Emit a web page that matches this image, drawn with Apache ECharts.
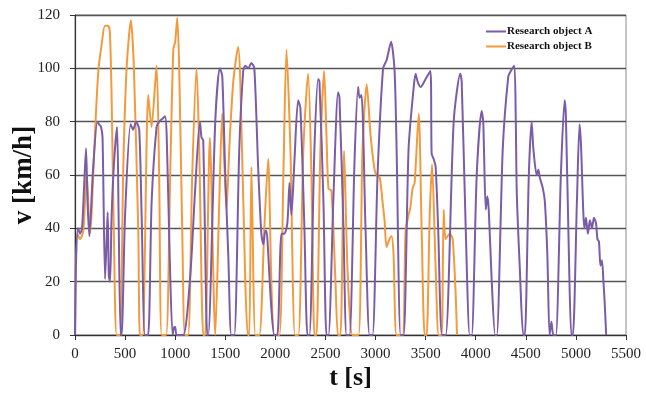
<!DOCTYPE html>
<html>
<head>
<meta charset="utf-8">
<script src="https://cdn.jsdelivr.net/npm/echarts@6/dist/echarts.min.js"></script>
<style>html,body{margin:0;padding:0;background:#fff}#c{width:646px;height:399px}</style>
</head>
<body>
<div id="c"></div>
<script>
var seriesNames = ['Research object A', 'Research object B'];
var xTicks = [0, 500, 1000, 1500, 2000, 2500, 3000, 3500, 4000, 4500, 5000, 5500];
var yTicks = [0, 20, 40, 60, 80, 100, 120];

var tA = [0,10,30,50,70,90,110,125,143,180,223,240,260,275,300,315,326,338,350,365,390,420,435,455,
465,500,555,580,610,641,665,698,
730,765,814,840,870,898,915,945,974,990,1000,1015,
1080,1150,1200,1247,1263,1280,1320,
1330,1400,1446,1470,1500,1530,1560,
1590,1640,1679,1700,1730,1760,1790,1828,1860,1880,1900,1912,1925,1960,1990,
2020,2061,2090,2120,2141,2160,2190,2227,2250,2290,2320,
2340,2390,2427,2440,2480,2510,
2530,2580,2626,2640,2680,2710,
2740,2790,2826,2840,2860,2900,2940,
2970,3020,3075,3110,3155,3190,3210,3250,
3280,3330,3381,3400,3420,3450,3500,3547,3560,3580,3600,3625,3663,
3700,3780,3846,3860,3900,3940,
3960,4010,4059,4075,4100,4115,4130,4160,4194,
4210,4270,4325,4350,4385,4400,4410,4440,4474,
4490,4530,4558,4575,4608,4625,4640,4670,4690,4715,4737,4755,4775,
4800,4850,4887,4900,4930,4954,
4970,5010,5036,5050,5085,5100,5120,5140,5160,5180,5200,5215,5230,5245,5260,5275,5290,5302];
var vA = [0,27,40,38,40,55,70,50,37,62,80,79,78,74,21,35,46,22,20,44,65,78,45,0,
0,45,79,77,80,77,45,0,
0,50,78,80,81,82,75,30,0,3,3,0,
0,22,55,80,74,73,0,
0,80,100,97,60,30,0,
0,70,99,101,100,102,100,63,38,34,39,39,33,10,0,
0,38,38,42,57,45,65,88,85,40,0,
0,70,96,95,50,0,
0,52,91,89,40,0,
0,65,93,89,90,40,0,
0,60,100,103,110,99,70,0,
0,70,93,98,95,93,96,99,68,66,63,40,0,
0,80,98,95,40,0,
0,60,84,80,47,52,47,20,0,
0,70,97,99,101,80,53,25,0,
0,60,80,70,60,62,59,55,50,30,0,5,0,
0,60,88,82,30,0,
0,50,79,72,40,44,38,43,40,44,42,36,35,26,28,20,10,0];

var tB = [0,23,50,83,116,150,166,200,233,266,299,332,349,366,399,416,
449,482,515,558,588,632,648,
675,731,764,814,840,865,
910,950,981,1000,1021,1040,1070,1097,
1130,1170,1213,1240,1280,
1300,1346,1400,
1440,1469,1490,1512,1540,1580,1629,1650,1700,1725,
1740,1761,1800,
1840,1890,1928,1960,1990,
2040,2080,2111,2150,2195,
2230,2280,2327,2360,2390,
2410,2450,2487,2510,2530,2560,2600,2625,
2650,2686,2720,2770,
2830,2870,2912,2950,2990,3010,3042,3070,3090,3110,3140,3160,3180,3210,
3270,3300,3330,3348,3370,3390,3431,3460,3490,
3510,3540,3564,3600,3630,
3660,3680,3700,3740,3770,3800,3813];
var vB = [0,38,36,39,61,38,46,76,99,109,116,116,113,88,13,0,
0,63,100,118,100,38,0,
0,90,78,101,60,0,
0,60,107,110,119,100,40,0,
0,60,100,70,0,
0,74,0,
50,83,65,47,70,95,108,95,20,0,
0,63,0,
0,40,66,20,0,
0,60,107,70,0,
0,70,98,60,0,
0,70,99,75,55,54,20,0,
0,69,25,0,
0,70,94,75,62,60,59,50,43,33,36,37,30,0,
0,39,45,48,55,57,83,40,0,
0,44,64,25,0,
0,47,36,38,36,15,0];

function pairs(t, v) { return t.map(function (x, i) { return [x, v[i]]; }); }

var serif = '"Liberation Serif", "DejaVu Serif", serif';
var chart = echarts.init(document.getElementById('c'), null, { renderer: 'canvas' });
chart.setOption({
  animation: false,
  backgroundColor: '#ffffff',
  grid: { left: 75, right: 20, top: 15, bottom: 64, containLabel: false, outerBoundsMode: 'none',
    show: true, borderColor: '#8a8a8a', borderWidth: 1 },
  legend: {
    orient: 'vertical', left: 481, top: 21, itemWidth: 20, itemHeight: 2, itemGap: 4, icon: 'rect',
    textStyle: { fontFamily: serif, fontWeight: 'bold', fontSize: 11, color: '#111', padding: [0, 0, 0, -4] },
    data: seriesNames
  },
  xAxis: {
    type: 'value', min: 0, max: 5500, interval: 500,
    name: 't [s]', nameLocation: 'middle', nameGap: 30, nameMoveOverlap: false,
    nameTextStyle: { fontFamily: serif, fontWeight: 'bold', fontSize: 26, color: '#111' },
    axisLine: { lineStyle: { color: '#333', width: 1.2 } },
    axisTick: { show: true, length: 5, lineStyle: { color: '#333' } },
    axisLabel: { fontFamily: serif, fontSize: 15, color: '#222', margin: 12,
      formatter: function (v) { return xTicks.indexOf(v) >= 0 ? String(v) : ''; } },
    splitLine: { show: false }
  },
  yAxis: {
    type: 'value', min: 0, max: 120, interval: 20,
    name: 'v [km/h]', nameLocation: 'middle', nameGap: 37, nameMoveOverlap: false,
    nameTextStyle: { fontFamily: serif, fontWeight: 'bold', fontSize: 27, color: '#111' },
    axisLine: { show: true, lineStyle: { color: '#333', width: 1.2 } },
    axisTick: { show: true, length: 5, lineStyle: { color: '#333' } },
    axisLabel: { fontFamily: serif, fontSize: 15, color: '#222', margin: 15,
      formatter: function (v) { return yTicks.indexOf(v) >= 0 ? String(v) : ''; } },
    splitLine: { show: true, lineStyle: { color: '#555', width: 1.4 } }
  },
  series: [
    { name: seriesNames[0], type: 'line', data: pairs(tA, vA), showSymbol: false, symbol: 'none',
      smooth: 0.25, lineStyle: { color: '#7a5ca8', width: 2 }, itemStyle: { color: '#7a5ca8' }, z: 3 },
    { name: seriesNames[1], type: 'line', data: pairs(tB, vB), showSymbol: false, symbol: 'none',
      smooth: 0.25, lineStyle: { color: '#f39a3e', width: 2 }, itemStyle: { color: '#f39a3e' }, z: 2 }
  ]
});
</script>
</body>
</html>
